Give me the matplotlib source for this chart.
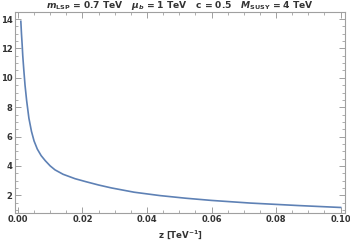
import numpy as np
import matplotlib.pyplot as plt
from matplotlib.ticker import MultipleLocator, FormatStrFormatter

plt.rcParams['font.family'] = 'DejaVu Sans'
plt.rcParams['font.weight'] = 'bold'
plt.rcParams['mathtext.fontset'] = 'custom'
plt.rcParams['mathtext.rm'] = 'DejaVu Sans:bold'
plt.rcParams['mathtext.it'] = 'DejaVu Sans:italic:bold'
plt.rcParams['mathtext.bf'] = 'DejaVu Sans:bold'

# values
z = [0.0009, 0.0011, 0.0013, 0.0015, 0.0018, 0.0022, 0.0027, 0.0034, 0.0042,
     0.0050, 0.0060, 0.0072, 0.0085, 0.0100, 0.0115, 0.0140, 0.0177, 0.021,
     0.025, 0.029, 0.036, 0.044, 0.052, 0.060, 0.072, 0.087, 0.100]
y = [13.85, 13.0, 12.3, 11.5, 10.6, 9.5, 8.45, 7.25, 6.35,
     5.70, 5.15, 4.70, 4.35, 4.00, 3.73, 3.43, 3.13, 2.93,
     2.70, 2.50, 2.21, 1.98, 1.80, 1.65, 1.47, 1.30, 1.17]

title = r'$m_{\rm LSP}$ = 0.7 TeV   $\mu_b$ = 1 TeV   c = 0.5   $M_{\rm SUSY}$ = 4 TeV'
xlabel = r'z [TeV$^{-1}$]'

fig = plt.figure(figsize=(3.5, 2.45), dpi=100)
ax = fig.add_axes([0.042, 0.131, 0.945, 0.821])
ax.plot(z, y, color='#5E81B5', lw=1.2)

ax.set_xlim(-0.001, 0.1015)
ax.set_ylim(0.8, 14.5)
ax.xaxis.set_major_locator(MultipleLocator(0.02))
ax.xaxis.set_minor_locator(MultipleLocator(0.005))
ax.yaxis.set_major_locator(MultipleLocator(2))
ax.yaxis.set_minor_locator(MultipleLocator(0.5))
ax.xaxis.set_major_formatter(FormatStrFormatter('%.2f'))
ax.set_yticks([2, 4, 6, 8, 10, 12, 14])

for s in ax.spines.values():
    s.set_color('#A0A0A0')
    s.set_linewidth(0.8)
ax.tick_params(which='both', direction='in', top=True, right=True,
               color='#A0A0A0', labelsize=6, labelcolor='#333333', pad=1.5)
ax.tick_params(which='major', length=4, width=0.7)
ax.tick_params(which='minor', length=2, width=0.6)
for lab in ax.get_xticklabels() + ax.get_yticklabels():
    lab.set_fontweight('bold')

ax.set_title(title, fontsize=6.6, color='#333333', pad=2, fontweight='bold')
ax.set_xlabel(xlabel, fontsize=6.2, color='#333333', labelpad=3, fontweight='bold')

fig.savefig('out.png')
